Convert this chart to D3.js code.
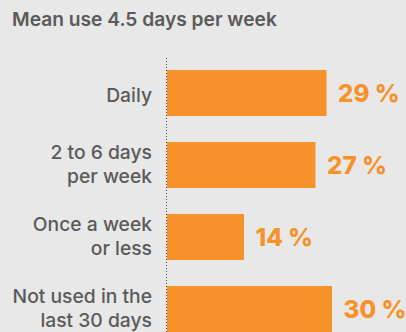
<!DOCTYPE html>
<html>
<head>
<meta charset="utf-8">
<script src="https://cdn.jsdelivr.net/npm/d3@7"></script>
<style>
  html, body { margin: 0; padding: 0; background: #e8e8e8; }
  svg { display: block; }
</style>
</head>
<body>
<script>
// Frequency of use, share of respondents (%)
const title = "Mean use 4.5 days per week";
const categories = [
  ["Daily"],
  ["2 to 6 days", "per week"],
  ["Once a week", "or less"],
  ["Not used in the", "last 30 days"]
];
const shares = [29, 27, 14, 30];

const W = 406, H = 332;
const orange = "#f7922a", grey = "#5a5a5a";
const font = "Inter, 'Liberation Sans', sans-serif";

const svg = d3.select("body").append("svg")
  .attr("width", W).attr("height", H);

svg.append("rect").attr("width", W).attr("height", H).attr("fill", "#e8e8e8");

svg.append("text")
  .attr("x", 12).attr("y", 26)
  .attr("font-family", font)
  .attr("font-weight", 600)
  .attr("font-size", 19.2)
  .attr("fill", grey)
  .text(title);

const x0 = 167;
const x = d3.scaleLinear().domain([0, 30]).range([x0, x0 + 165]);
const y = d3.scaleBand().domain(d3.range(categories.length))
  .range([70 - 13, 70 + 4 * 72 - 13]).paddingInner(26 / 72).paddingOuter(13 / 72);

// dotted baseline
svg.append("line")
  .attr("x1", x0 - 0.5).attr("x2", x0 - 0.5)
  .attr("y1", 58).attr("y2", H)
  .attr("stroke", "#444").attr("stroke-width", 1)
  .attr("stroke-dasharray", "1,2");

const g = svg.append("g");

g.selectAll("rect.bar").data(shares).join("rect")
  .attr("class", "bar")
  .attr("x", x0)
  .attr("y", (d, i) => y(i))
  .attr("width", d => x(d) - x0)
  .attr("height", y.bandwidth())
  .attr("fill", orange);

g.selectAll("text.val").data(shares).join("text")
  .attr("class", "val")
  .attr("x", d => x(d) + 11.5)
  .attr("y", (d, i) => y(i) + y.bandwidth() / 2)
  .attr("dy", "0.36em")
  .attr("font-family", font)
  .attr("font-weight", 800)
  .attr("font-size", 24.2)
  .attr("fill", orange)
  .text(d => d + " %");

const lab = g.selectAll("text.cat").data(categories).join("text")
  .attr("class", "cat")
  .attr("text-anchor", "end")
  .attr("font-family", font)
  .attr("font-weight", 500)
  .attr("font-size", 19.3)
  .attr("fill", grey);

// category labels: one or two lines, block centred on the bar
lab.each(function (lines, i) {
  const t = d3.select(this);
  const lh = 24;
  const cy = y(i) + y.bandwidth() / 2;
  const first = lines.length === 1 ? cy + 9 : cy - 6.5;
  lines.forEach((s, k) => {
    t.append("tspan")
      .attr("x", 152)
      .attr("y", first + k * lh)
      .text(s);
  });
});
</script>
</body>
</html>
